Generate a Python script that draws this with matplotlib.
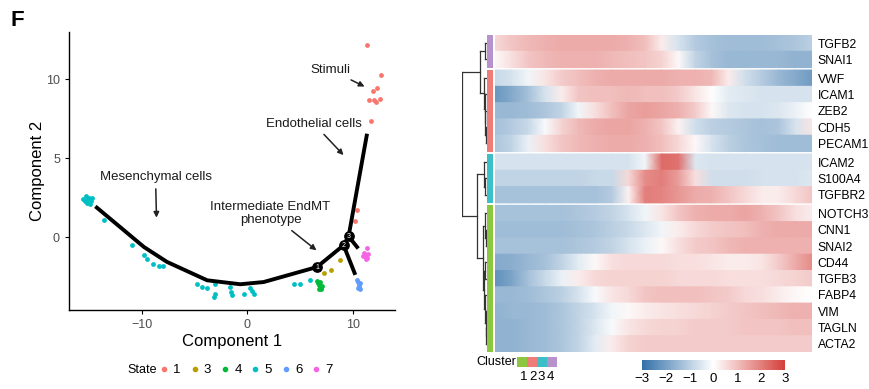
import matplotlib
matplotlib.use("Agg")
import matplotlib.pyplot as plt
import numpy as np
from matplotlib.colors import LinearSegmentedColormap, Normalize
from matplotlib.cm import ScalarMappable
from matplotlib.lines import Line2D

plt.rcParams['font.family'] = ['Liberation Sans', 'DejaVu Sans']

# ---- trajectory scatter data (per state) ----
state_names = ['1', '3', '4', '5', '6', '7']
state_colors = ['#F8766D', '#B79F00', '#00BA38', '#00BFC4', '#619CFF', '#F564E3']

s1_x = [11.35, 12.7, 12.3, 11.9, 11.5, 12.0, 12.2, 12.55, 11.75, 10.4, 10.17]
s1_y = [12.2, 10.3, 9.45, 9.26, 8.67, 8.7, 8.54, 8.73, 7.34, 1.75, 1.03]
s3_x = [7.3, 7.96, 8.8]
s3_y = [-2.26, -2.05, -1.46]
s4_x = [6.6, 6.7, 6.8, 6.9, 7.0, 6.75, 6.95, 7.05, 6.85]
s4_y = [-2.75, -2.9, -3.0, -3.1, -3.2, -3.25, -3.3, -3.05, -2.8]
s5_x = [-15.6, -15.3, -15.0, -14.8, -15.2, -14.9, -15.4, -14.7, -15.1,
        -13.6, -10.9, -9.8, -9.5, -8.9, -8.4, -8.0, -4.77, -4.3, -3.8,
        -3.03, -3.03, -3.2, -1.6, -1.55, -1.45, -0.35, 0.28, 0.45, 0.6,
        4.4, 5.0, 5.97]
s5_y = [2.4, 2.6, 2.5, 2.3, 2.2, 2.1, 2.3, 2.5, 2.4,
        1.07, -0.5, -1.14, -1.35, -1.67, -1.8, -1.8, -2.93, -3.14, -3.18,
        -2.93, -3.56, -3.78, -3.14, -3.46, -3.67, -3.56, -3.18, -3.42, -3.56,
        -2.97, -2.93, -2.72]
s6_x = [10.4, 10.5, 10.6, 10.55, 10.7, 10.45, 10.65]
s6_y = [-2.7, -2.85, -3.0, -3.15, -3.3, -3.2, -2.9]
s7_x = [11.35, 11.1, 11.2, 11.3, 11.0, 11.4, 11.25]
s7_y = [-0.65, -1.0, -1.15, -1.3, -1.2, -1.05, -1.4]
states_x = [s1_x, s3_x, s4_x, s5_x, s6_x, s7_x]
states_y = [s1_y, s3_y, s4_y, s5_y, s6_y, s7_y]

# principal graph
path_x = [-14.4, -9.8, -7.6, -3.8, -0.66, 1.55, 6.6, 9.13, 9.6, 11.35]
path_y = [1.96, -0.61, -1.56, -2.72, -2.97, -2.83, -1.88, -0.5, 0.06, 6.56]
branch_a_x = [9.6, 10.4]
branch_a_y = [0.06, -0.61]
branch_b_x = [9.13, 10.17]
branch_b_y = [-0.5, -2.26]
node_x = [6.6, 9.13, 9.6]
node_y = [-1.88, -0.5, 0.06]
node_labels = ['1', '2', '3']

# ---- heatmap data ----
genes = ['TGFB2', 'SNAI1', 'VWF', 'ICAM1', 'ZEB2', 'CDH5', 'PECAM1',
         'ICAM2', 'S100A4', 'TGFBR2', 'NOTCH3', 'CNN1', 'SNAI2', 'CD44',
         'TGFB3', 'FABP4', 'VIM', 'TAGLN', 'ACTA2']
gene_cluster = [4, 4, 2, 2, 2, 2, 2, 3, 3, 3, 1, 1, 1, 1, 1, 1, 1, 1, 1]
cluster_colors = {1: '#8DC63F', 2: '#F07C7A', 3: '#3DBFC8', 4: '#B792CC'}

expr = [
    [0.6, 0.9, 1.1, 1.2, 1.3, 1.3, 1.3, 1.3, 1.2, 1.0, 0.3, -0.6, -1.1, -1.3, -1.4, -1.4, -1.4, -1.3, -1.2, -1.0],
    [0.1, 0.5, 0.9, 1.1, 1.2, 1.2, 1.2, 1.1, 1.0, 0.9, 0.7, 0.1, -0.9, -1.3, -1.5, -1.5, -1.5, -1.5, -1.6, -1.6],
    [-0.8, -0.6, -0.2, 0.4, 0.8, 1.0, 1.2, 1.3, 1.3, 1.3, 1.3, 1.2, 1.2, 1.1, 0.3, -0.7, -1.1, -1.5, -1.8, -2.1],
    [-2.2, -1.8, -1.3, -0.6, 0.3, 0.9, 1.0, 1.0, 1.1, 1.0, 1.0, 0.8, 0.4, 0.0, -0.4, -0.5, -0.6, -0.6, -0.6, -0.6],
    [-1.5, -1.5, -1.4, -1.2, -0.9, -0.2, 0.5, 1.0, 1.4, 1.5, 1.4, 1.2, 0.8, 0.1, -0.5, -0.6, -0.6, -0.5, -0.3, 0.0],
    [-1.3, -1.1, -0.8, -0.1, 0.7, 1.1, 1.3, 1.4, 1.4, 1.2, 0.9, 0.2, -0.7, -1.0, -1.1, -1.2, -1.3, -1.2, -0.6, 0.4],
    [-1.2, -0.9, -0.3, 0.5, 0.9, 1.1, 1.2, 1.3, 1.3, 1.2, 1.0, 0.6, 0.1, -0.6, -1.0, -1.2, -1.3, -1.4, -1.4, -1.4],
    [-0.6, -0.6, -0.6, -0.6, -0.6, -0.6, -0.6, -0.6, -0.6, -0.2, 2.3, 2.2, -0.5, -0.6, -0.6, -0.6, -0.6, -0.6, -0.6, -0.6],
    [-0.9, -0.9, -0.9, -0.9, -0.9, -0.9, -0.8, -0.8, 0.6, 1.8, 2.0, 1.5, 0.5, -0.7, -0.7, -0.7, -0.6, -0.6, -0.6, -0.5],
    [-1.3, -1.3, -1.3, -1.3, -1.3, -1.3, -1.3, -1.1, 0.2, 2.0, 1.9, 1.6, 1.3, 1.2, 0.9, 0.6, 0.3, 0.3, 0.6, 0.9],
    [-1.3, -1.3, -1.3, -1.3, -1.3, -1.2, -1.1, -0.9, -0.6, -0.2, 0.4, 0.9, 1.2, 1.3, 1.3, 1.4, 1.2, 0.9, 0.5, 0.3],
    [-1.4, -1.4, -1.4, -1.4, -1.4, -1.3, -1.2, -1.0, -0.8, -0.5, -0.2, 0.3, 0.6, 0.8, 0.9, 1.0, 1.2, 1.3, 1.3, 1.3],
    [-1.3, -1.3, -1.3, -1.3, -1.3, -1.2, -1.1, -0.9, -0.6, -0.3, 0.1, 0.5, 0.8, 0.9, 1.1, 1.2, 1.2, 1.2, 1.2, 1.2],
    [-1.8, -1.7, -1.5, -1.3, -0.9, -0.4, 0.1, 0.5, 0.6, 0.6, 0.6, 0.5, 0.5, 0.4, 0.3, 0.3, 0.4, 0.8, 1.3, 1.8],
    [-2.3, -1.9, -1.3, -0.8, -0.3, 0.3, 0.6, 0.7, 0.7, 0.7, 0.7, 0.6, 0.6, 0.6, 0.5, 0.5, 0.5, 0.6, 0.7, 0.8],
    [-1.5, -1.5, -1.4, -1.2, -1.0, -0.6, -0.1, 0.4, 0.6, 0.9, 1.0, 1.0, 1.0, 0.9, 0.8, 0.6, 0.5, 0.3, 0.1, 0.0],
    [-1.6, -1.5, -1.5, -1.4, -1.2, -0.9, -0.6, -0.2, 0.1, 0.3, 0.4, 0.5, 0.6, 0.7, 0.8, 0.9, 1.0, 1.1, 1.2, 1.2],
    [-1.6, -1.6, -1.5, -1.4, -1.2, -0.9, -0.5, -0.1, 0.4, 0.6, 0.7, 0.7, 0.8, 0.8, 0.8, 0.9, 0.9, 0.9, 1.0, 1.0],
    [-1.6, -1.6, -1.5, -1.4, -1.2, -0.9, -0.4, 0.3, 0.7, 0.8, 0.8, 0.8, 0.8, 0.8, 0.8, 0.8, 0.8, 0.8, 0.8, 0.8],
]

# dendrogram: [height, left, right]
c4 = [0.1, 'TGFB2', 'SNAI1']
c2 = [0.14, 'VWF', [0.1, 'ICAM1', [0.08, 'ZEB2', [0.05, 'CDH5', 'PECAM1']]]]
c3 = [0.14, 'ICAM2', [0.08, 'S100A4', 'TGFBR2']]
c1 = [0.18, [0.1, 'NOTCH3', [0.06, 'CNN1', 'SNAI2']],
      [0.14, [0.08, 'CD44', 'TGFB3'], [0.1, 'FABP4', [0.06, 'VIM', [0.03, 'TAGLN', 'ACTA2']]]]]
tree = [1.0, [0.3, c4, c2], [0.42, c3, c1]]

W, H = 869, 389
fig = plt.figure(figsize=(W / 100, H / 100), dpi=100)


def box(x0, y0, x1, y1):
    return [x0 / W, 1 - y1 / H, (x1 - x0) / W, (y1 - y0) / H]


# ================= left panel =================
ax = fig.add_axes(box(69, 32, 395, 310))
for xs, ys, c in zip(states_x, states_y, state_colors):
    ax.scatter(xs, ys, s=12, color=c, linewidths=0, zorder=2)
ax.plot(path_x, path_y, color='black', lw=2.8, solid_capstyle='butt', zorder=3)
ax.plot(branch_a_x, branch_a_y, color='black', lw=2.8, zorder=3)
ax.plot(branch_b_x, branch_b_y, color='black', lw=2.8, zorder=3)
ax.scatter(node_x, node_y, s=45, color='black', zorder=4)
for nx, ny, nl in zip(node_x, node_y, node_labels):
    ax.text(nx, ny, nl, color='white', fontsize=5, ha='center', va='center', zorder=5)

ax.set_xlim(-16.9, 14.0)
ax.set_ylim(-4.6, 13.0)
ax.set_xticks([-10, 0, 10])
ax.set_yticks([0, 5, 10])
ax.tick_params(labelsize=9, labelcolor='#4d4d4d', length=3, width=0.8)
for sp in ['top', 'right']:
    ax.spines[sp].set_visible(False)
ax.spines['left'].set_linewidth(1)
ax.spines['bottom'].set_linewidth(1)
ax.set_xlabel('Component 1', fontsize=12, labelpad=2)
ax.set_ylabel('Component 2', fontsize=12, labelpad=1)

arrow = dict(arrowstyle='-|>', color='#222222', lw=1.1, mutation_scale=8)
tkw = dict(fontsize=9.5, ha='center', va='center', color='#1a1a1a')
ax.annotate('Stimuli', xy=(11.35, 9.47), xytext=(7.9, 10.6), arrowprops=arrow, **tkw)
ax.annotate('Endothelial cells', xy=(9.3, 5.08), xytext=(6.3, 7.2), arrowprops=arrow, **tkw)
ax.annotate('Mesenchymal cells', xy=(-8.6, 1.07), xytext=(-8.7, 3.8), arrowprops=arrow, **tkw)
ax.annotate('Intermediate EndMT\nphenotype', xy=(6.76, -0.93), xytext=(2.2, 1.5),
            linespacing=1.1, arrowprops=arrow, **tkw)

fig.text(10 / W, 1 - 20 / H, 'F', fontsize=16, fontweight='bold', va='center')

fig.text(127 / W, 1 - 370 / H, 'State', fontsize=9, va='center')
handles = [Line2D([], [], marker='o', ls='', color=c, markersize=3) for c in state_colors]
fig.legend(handles, state_names, loc='center left', bbox_to_anchor=(158 / W, 1 - 370 / H),
           ncol=6, frameon=False, fontsize=9.5, handlelength=0.9, handletextpad=0.25,
           columnspacing=0.6, borderpad=0, borderaxespad=0)

# ================= right panel =================
gap = 0.15
breaks = [i for i in range(1, len(genes)) if gene_cluster[i] != gene_cluster[i - 1]]
row_top = [i + gap * sum(1 for b in breaks if b <= i) for i in range(len(genes))]
row_mid = [t + 0.5 for t in row_top]
y_max = row_top[-1] + 1

cmap = LinearSegmentedColormap.from_list('bwr_mon', ['#3371A9', '#FFFFFF', '#D43F3A'])
norm = Normalize(-3, 3)

axh = fig.add_axes(box(495, 35, 812, 352))
xs = np.linspace(0, 1, len(expr[0]))
for t, vals in zip(row_top, expr):
    X = np.vstack([xs, xs])
    Y = np.array([[t] * len(xs), [t + 1] * len(xs)])
    C = np.vstack([vals, vals])
    axh.pcolormesh(X, Y, C, shading='gouraud', cmap=cmap, norm=norm)
axh.set_xlim(0, 1)
axh.set_ylim(y_max, 0)
axh.set_xticks([])
axh.yaxis.tick_right()
axh.set_yticks(row_mid)
axh.set_yticklabels(genes, fontsize=8.8)
axh.tick_params(axis='y', length=0, pad=4)
for sp in axh.spines.values():
    sp.set_visible(False)

# cluster colour bar
axc = fig.add_axes(box(487, 35, 493, 352))
axc.barh(row_mid, [1] * len(genes), height=1.0, left=0,
         color=[cluster_colors[c] for c in gene_cluster])
axc.set_xlim(0, 1)
axc.set_ylim(y_max, 0)
axc.axis('off')

# dendrogram
axd = fig.add_axes(box(462, 35, 487, 352))
leaf_pos = dict(zip(genes, row_mid))


def draw_tree(node):
    if isinstance(node, str):
        return leaf_pos[node], 0.0
    h, left, right = node
    yl, hl = draw_tree(left)
    yr, hr = draw_tree(right)
    axd.plot([hl, h], [yl, yl], color='#333333', lw=0.9)
    axd.plot([hr, h], [yr, yr], color='#333333', lw=0.9)
    axd.plot([h, h], [yl, yr], color='#333333', lw=0.9)
    return (yl + yr) / 2, h


draw_tree(tree)
axd.set_xlim(1.02, 0)
axd.set_ylim(y_max, 0)
axd.axis('off')

# cluster legend
fig.text(516 / W, 1 - 362 / H, 'Cluster', fontsize=9, ha='right', va='center')
axl = fig.add_axes(box(517, 357, 557, 367))
clusters = [1, 2, 3, 4]
axl.bar(clusters, [1] * 4, width=1.0, color=[cluster_colors[c] for c in clusters])
axl.set_xlim(0.5, 4.5)
axl.set_ylim(0, 1)
axl.axis('off')
for c in clusters:
    fig.text((517 + 9 * (c - 0.5) + 2) / W, 1 - 377 / H, str(c), fontsize=9.5,
             ha='center', va='center')

# colour scale
cax = fig.add_axes(box(642, 360, 785, 370))
cb = fig.colorbar(ScalarMappable(norm=norm, cmap=cmap), cax=cax, orientation='horizontal')
cb.set_ticks([-3, -2, -1, 0, 1, 2, 3])
cb.outline.set_visible(False)
cax.tick_params(length=0, labelsize=9.5, pad=2)

fig.savefig('out.png', dpi=100)
